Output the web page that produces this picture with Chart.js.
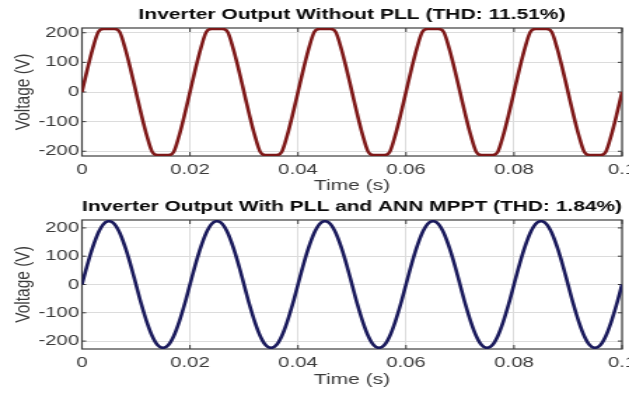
<!DOCTYPE html>
<html>
<head>
<meta charset="utf-8">
<script src="https://cdn.jsdelivr.net/npm/chart.js@4"></script>
<style>
  html, body { margin: 0; padding: 0; background: #fff; overflow: hidden; width: 629px; height: 394px; }
  .wrap { position: absolute; left: 0; width: 449px; transform: scaleX(1.4009); transform-origin: 0 0; }
  canvas { display: block; }
</style>
</head>
<body>
<div class="wrap" style="top:0;height:195px"><canvas id="top" width="449" height="195"></canvas></div>
<div class="wrap" style="top:195px;height:199px"><canvas id="bottom" width="449" height="199"></canvas></div>
<script>
// temps en millisecondes (0 .. 100 ms)
const timeMs = [
  0, 1, 2, 3, 4, 5, 6, 7, 8, 9,
  10, 11, 12, 13, 14, 15, 16, 17, 18, 19,
  20, 21, 22, 23, 24, 25, 26, 27, 28, 29,
  30, 31, 32, 33, 34, 35, 36, 37, 38, 39,
  40, 41, 42, 43, 44, 45, 46, 47, 48, 49,
  50, 51, 52, 53, 54, 55, 56, 57, 58, 59,
  60, 61, 62, 63, 64, 65, 66, 67, 68, 69,
  70, 71, 72, 73, 74, 75, 76, 77, 78, 79,
  80, 81, 82, 83, 84, 85, 86, 87, 88, 89,
  90, 91, 92, 93, 94, 95, 96, 97, 98, 99,
  100
];

// sortie onduleur sans PLL (écrêtée)
const noPllVolts = [
  0, 77, 147, 202, 213, 213, 213, 202, 147, 77,
  0, -77, -147, -202, -213, -213, -213, -202, -147, -77,
  0, 77, 147, 202, 213, 213, 213, 202, 147, 77,
  0, -77, -147, -202, -213, -213, -213, -202, -147, -77,
  0, 77, 147, 202, 213, 213, 213, 202, 147, 77,
  0, -77, -147, -202, -213, -213, -213, -202, -147, -77,
  0, 77, 147, 202, 213, 213, 213, 202, 147, 77,
  0, -77, -147, -202, -213, -213, -213, -202, -147, -77,
  0, 77, 147, 202, 213, 213, 213, 202, 147, 77,
  0, -77, -147, -202, -213, -213, -213, -202, -147, -77,
  0
];

// sortie onduleur avec PLL + ANN MPPT
const pllVolts = [
  0, 70, 132, 182, 214, 224, 214, 182, 132, 70,
  0, -70, -132, -182, -214, -224, -214, -182, -132, -70,
  0, 70, 132, 182, 214, 224, 214, 182, 132, 70,
  0, -70, -132, -182, -214, -224, -214, -182, -132, -70,
  0, 70, 132, 182, 214, 224, 214, 182, 132, 70,
  0, -70, -132, -182, -214, -224, -214, -182, -132, -70,
  0, 70, 132, 182, 214, 224, 214, 182, 132, 70,
  0, -70, -132, -182, -214, -224, -214, -182, -132, -70,
  0, 70, 132, 182, 214, 224, 214, 182, 132, 70,
  0, -70, -132, -182, -214, -224, -214, -182, -132, -70,
  0
];

const xTicks = [0, 0.02, 0.04, 0.06, 0.08, 0.1];
const yTicks = [-200, -100, 0, 100, 200];

Chart.defaults.font.family = "'Liberation Sans', Arial, sans-serif";

// cadre du graphe + petites graduations vers l'intérieur (style MATLAB)
const frame = {
  id: 'frame',
  beforeDatasetsDraw(chart) {
    const { ctx, chartArea: a, scales } = chart;
    ctx.save();
    ctx.strokeStyle = '#3c3c3c';
    ctx.lineWidth = 1.2;
    ctx.strokeRect(a.left, a.top, a.right - a.left, a.bottom - a.top);
    ctx.lineWidth = 1;
    ctx.beginPath();
    xTicks.forEach(v => {
      const x = scales.x.getPixelForValue(v);
      ctx.moveTo(x, a.bottom); ctx.lineTo(x, a.bottom - 4);
      ctx.moveTo(x, a.top); ctx.lineTo(x, a.top + 4);
    });
    yTicks.forEach(v => {
      const y = scales.y.getPixelForValue(v);
      ctx.moveTo(a.left, y); ctx.lineTo(a.left + 3, y);
      ctx.moveTo(a.right, y); ctx.lineTo(a.right - 3, y);
    });
    ctx.stroke();
    ctx.restore();
  }
};

function buildChart(id, title, values, color, yLimit, titleTop, axisHeight, timePad) {
  const points = timeMs.map((t, i) => ({ x: t / 1000, y: values[i] }));
  return new Chart(document.getElementById(id), {
    type: 'line',
    data: {
      datasets: [{
        data: points,
        borderColor: color,
        borderWidth: 2.6,
        pointRadius: 0,
        fill: false,
        cubicInterpolationMode: 'monotone'
      }]
    },
    options: {
      responsive: false,
      animation: false,
      layout: { padding: { left: 0, right: 5, top: 0, bottom: 0 } },
      plugins: {
        legend: { display: false },
        tooltip: { enabled: false },
        title: {
          display: true,
          text: title,
          fullSize: false,
          color: '#0a0a0a',
          font: { size: 15, weight: 'bold' },
          padding: { top: titleTop, bottom: 4 }
        }
      },
      scales: {
        x: {
          type: 'linear',
          min: 0,
          max: 0.1,
          afterBuildTicks: s => { s.ticks = xTicks.map(v => ({ value: v })); },
          afterFit: s => { s.paddingLeft = 0; s.paddingRight = 0; s.height = axisHeight; },
          grid: { color: '#dcdcdc', drawTicks: false },
          border: { display: false },
          ticks: { padding: 5, color: '#3a3a3a', maxRotation: 0, font: { size: 14.5 }, callback: v => String(v) },
          title: { display: true, text: 'Time (s)', color: '#3a3a3a', font: { size: 15 }, padding: { top: 0, bottom: timePad } }
        },
        y: {
          min: -yLimit,
          max: yLimit,
          afterBuildTicks: s => { s.ticks = yTicks.map(v => ({ value: v })); },
          afterFit: s => { s.width = 58.5; },
          grid: { color: '#dcdcdc', drawTicks: false },
          border: { display: false },
          ticks: { padding: 2, color: '#3a3a3a', font: { size: 14.5 }, callback: v => String(v) },
          title: { display: true, text: 'Voltage (V)', color: '#3a3a3a', font: { size: 15.5 }, padding: { top: 7, bottom: 0 } }
        }
      }
    },
    plugins: [frame]
  });
}

buildChart('top', 'Inverter Output Without PLL (THD: 11.51%)', noPllVolts, '#7e1818', 216, 6, 39, 0);
buildChart('bottom', 'Inverter Output With PLL and ANN MPPT (THD: 1.84%)', pllVolts, '#1a1a5c', 228, 3, 45, 5);
</script>
</body>
</html>
